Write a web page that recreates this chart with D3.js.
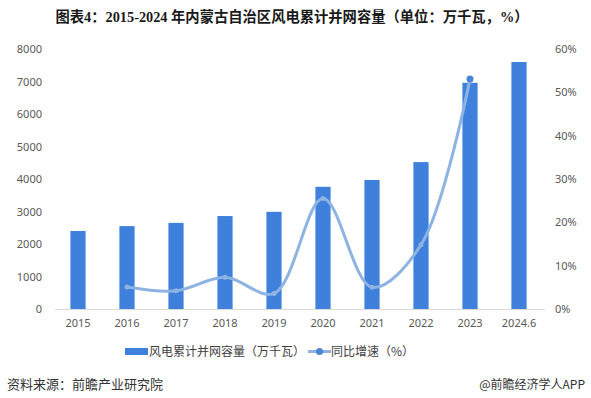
<!DOCTYPE html>
<html>
<head>
<meta charset="utf-8">
<script src="https://cdn.jsdelivr.net/npm/d3@7"></script>
<style>
  body { margin: 0; background: #fff; }
  svg { display: block; font-family: "Noto Sans CJK SC", "Noto Sans", sans-serif; }
</style>
</head>
<body>
<svg width="591" height="398"></svg>
<script>
// data
const years = ['2015', '2016', '2017', '2018', '2019', '2020', '2021', '2022', '2023', '2024.6'];
const capacity = [2400, 2550, 2650, 2860, 2990, 3760, 3970, 4520, 6960, 7600];
const growth = [null, 5.1, 4.2, 7.3, 3.6, 25.5, 5.0, 14.8, 53.1, null];
const leftTicks = [0, 1000, 2000, 3000, 4000, 5000, 6000, 7000, 8000];
const rightTicks = [0, 10, 20, 30, 40, 50, 60];

const width = 591;
const height = 398;
const svg = d3.select('svg');

const barColor = '#3f80dc';
const lineColor = '#8db3e3';

//Scales
var xScale = d3.scaleBand()
               .domain(years)
               .range([53.5, 543.5])
               .paddingInner(0.69)
               .paddingOuter(0.345);

var yScale = d3.scaleLinear()
               .domain([0, 8000])
               .range([309, 49]);

var y2Scale = d3.scaleLinear()
                .domain([0, 60])
                .range([309, 49]);

//Title
svg.append('text').attr('x', 292)
                  .attr('y', 22)
                  .style('text-anchor', 'middle')
                  .style('font-family', '"Liberation Serif", "Noto Sans CJK SC", serif')
                  .style('font-weight', 'bold')
                  .style('font-size', '14.3px')
                  .attr('fill', '#1a1a1a')
                  .text('图表4：2015-2024 年内蒙古自治区风电累计并网容量（单位：万千瓦，%）');

//Axes
var yAxis = d3.axisLeft(yScale).tickValues(leftTicks).tickSize(0).tickPadding(0)
              .tickFormat(d3.format('d'));
var y2Axis = d3.axisRight(y2Scale).tickValues(rightTicks).tickSize(0).tickPadding(0)
               .tickFormat(d => d + '%');
var xAxis = d3.axisBottom(xScale).tickSize(0).tickPadding(10);

svg.append('g').attr('transform', 'translate(42, 0)').call(yAxis)
   .call(g => g.select('.domain').remove());
svg.append('g').attr('transform', 'translate(555, 0)').call(y2Axis)
   .call(g => g.select('.domain').remove());
svg.append('g').attr('transform', 'translate(0, 309)').call(xAxis)
   .call(g => g.select('.domain').attr('stroke', '#d9d9d9').attr('d', 'M55,0.5H545'));

svg.selectAll('.tick text').attr('fill', '#595959')
   .style('font-family', '"Noto Sans", "Noto Sans CJK SC", sans-serif')
   .style('font-size', '11px');

//Bars
svg.append('g').selectAll('rect')
   .data(years)
   .enter()
   .append('rect')
      .attr('x', (d) => xScale(d))
      .attr('y', (d, i) => yScale(capacity[i]))
      .attr('width', xScale.bandwidth())
      .attr('height', (d, i) => yScale(0) - yScale(capacity[i]))
      .attr('fill', barColor);

//Growth line
var pts = years.map((d, i) => ({ year: d, v: growth[i] })).filter(p => p.v !== null);
var line = d3.line()
             .x(p => xScale(p.year) + xScale.bandwidth() / 2)
             .y(p => y2Scale(p.v))
             .curve(d3.curveCatmullRom.alpha(0.5));

svg.append('path').datum(pts)
   .attr('d', line)
   .attr('fill', 'none')
   .attr('stroke', lineColor)
   .attr('stroke-width', 3)
   .attr('stroke-linecap', 'round');

svg.append('g').selectAll('circle')
   .data(pts)
   .enter()
   .append('circle')
      .attr('cx', p => xScale(p.year) + xScale.bandwidth() / 2)
      .attr('cy', p => y2Scale(p.v))
      .attr('r', (p, i) => i === pts.length - 1 ? 3.5 : 2.5)
      .attr('fill', (p, i) => i === pts.length - 1 ? '#4a86d8' : lineColor);

//Legend
var legend = svg.append('g').style('font-size', '12px').attr('fill', '#404040');
legend.append('rect').attr('x', 125).attr('y', 348).attr('width', 23).attr('height', 7).attr('fill', barColor);
legend.append('text').attr('x', 149).attr('y', 356).text('风电累计并网容量（万千瓦）');
legend.append('line').attr('x1', 308).attr('x2', 331).attr('y1', 351.5).attr('y2', 351.5)
      .attr('stroke', lineColor).attr('stroke-width', 3);
legend.append('circle').attr('cx', 319.5).attr('cy', 351.5).attr('r', 3.5).attr('fill', '#4a86d8');
legend.append('text').attr('x', 331).attr('y', 356).text('同比增速（%）');

//Footer
svg.append('text').attr('x', 7).attr('y', 389)
   .style('font-size', '13px').attr('fill', '#333')
   .text('资料来源：前瞻产业研究院');
svg.append('text').attr('x', 585).attr('y', 389)
   .style('text-anchor', 'end')
   .style('font-size', '12px').attr('fill', '#333')
   .text('@前瞻经济学人APP');
</script>
</body>
</html>
